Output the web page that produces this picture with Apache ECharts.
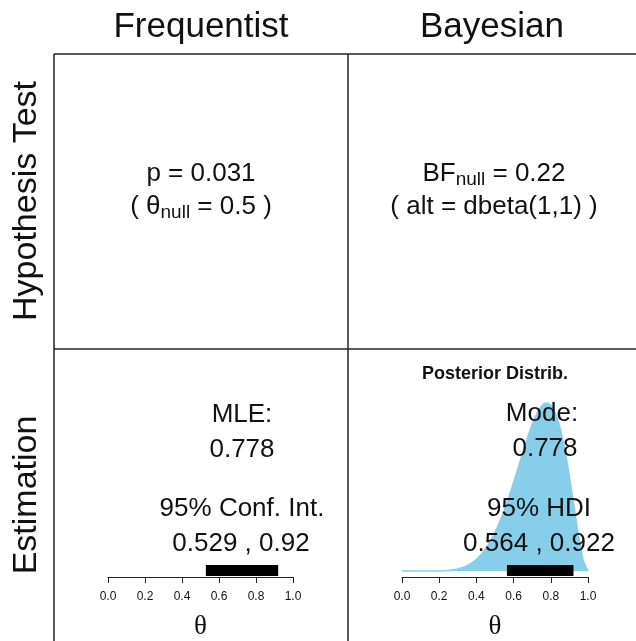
<!DOCTYPE html>
<html>
<head>
<meta charset="utf-8">
<script src="https://cdn.jsdelivr.net/npm/echarts@6/dist/echarts.min.js"></script>
<style>
  html, body { margin: 0; padding: 0; background: #fff; }
  #chart { width: 636px; height: 641px; }
</style>
</head>
<body>
<div id="chart"></div>
<script>
// posterior density (theta, density)
const thetaGrid = [0, 0.05, 0.1, 0.15, 0.2, 0.25, 0.3, 0.35, 0.4, 0.425, 0.45, 0.475, 0.5, 0.525, 0.55, 0.575,
  0.6, 0.625, 0.65, 0.675, 0.7, 0.725, 0.75, 0.775, 0.8, 0.825, 0.85, 0.875, 0.9, 0.925, 0.95, 0.975, 1.0]
const densityVals = [0, 0, 0.0, 0.0004, 0.003, 0.012, 0.039, 0.098, 0.212, 0.298, 0.407, 0.541, 0.703, 0.893, 1.110, 1.351,
  1.612, 1.886, 2.162, 2.428, 2.668, 2.866, 3.003, 3.060, 3.020, 2.868, 2.597, 2.209, 1.722, 1.173, 0.629, 0.189, 0]

const confInt = [0.529, 0.92]   // frequentist 95% CI
const hdi = [0.564, 0.922]      // bayesian 95% HDI
const axisTicks = [0, 0.2, 0.4, 0.6, 0.8, 1.0]

const colHeads = ['Frequentist', 'Bayesian']
const rowHeads = ['Hypothesis Test', 'Estimation']

const chart = echarts.init(document.getElementById('chart'))

const font = '"Liberation Sans", Arial, sans-serif'
const lineCol = '#222'

const makeX = (idx) => ({
  gridIndex: idx,
  type: 'value',
  min: axisTicks[0],
  max: axisTicks[axisTicks.length - 1],
  interval: 0.2,
  name: 'θ',
  nameLocation: 'middle',
  nameGap: 36,
  nameTextStyle: { fontFamily: '"Liberation Serif", "DejaVu Serif", serif', fontSize: 27, color: '#111' },
  axisLine: { onZero: false, lineStyle: { color: lineCol, width: 1 } },
  axisTick: { length: 6, lineStyle: { color: lineCol } },
  axisLabel: { fontFamily: font, fontSize: 12, color: '#111', margin: 14, formatter: v => v.toFixed(1) },
  splitLine: { show: false }
})
const makeY = (idx) => ({ gridIndex: idx, type: 'value', min: -0.107, max: 3.06, show: false })

// text helper
const txt = (x, y, s, size, extra) => Object.assign({
  type: 'text', x: x, y: y, z: 100,
  style: Object.assign({ text: s, fontFamily: font, fontSize: size, fill: '#111', align: 'center', verticalAlign: 'middle' }, extra || {})
})
const seg = (x1, y1, x2, y2) => ({ type: 'line', z: 50, shape: { x1, y1, x2, y2 }, style: { stroke: lineCol, lineWidth: 1.5 } })
const subRich = {
  m: { fontFamily: font, fontSize: 26, color: '#111' },
  s: { fontFamily: font, fontSize: 19, color: '#111', padding: [12, 0, 0, 0] }
}

chart.setOption({
  animation: false,
  grid: [
    { left: 108, width: 185, top: 403, height: 177 },
    { left: 402, width: 186, top: 403, height: 177 }
  ],
  xAxis: [makeX(0), makeX(1)],
  yAxis: [makeY(0), makeY(1)],
  series: [
    {
      type: 'line', xAxisIndex: 1, yAxisIndex: 1, symbol: 'none', smooth: 0.3,
      data: thetaGrid.map((t, i) => [t, densityVals[i]]),
      lineStyle: { color: '#87CEEB', width: 1.5 },
      areaStyle: { color: '#87CEEB', opacity: 1, origin: 'auto' }
    },
    {
      type: 'line', xAxisIndex: 0, yAxisIndex: 0, symbol: 'none', z: 5,
      data: [[confInt[0], 0.01], [confInt[1], 0.01]],
      lineStyle: { color: '#000', width: 11, cap: 'butt' }
    },
    {
      type: 'line', xAxisIndex: 1, yAxisIndex: 1, symbol: 'none', z: 5,
      data: [[hdi[0], 0.01], [hdi[1], 0.01]],
      lineStyle: { color: '#000', width: 11, cap: 'butt' }
    }
  ],
  graphic: [
    seg(54, 54, 54, 641), seg(348, 54, 348, 641),
    seg(54, 54, 636, 54), seg(54, 349, 636, 349),
    txt(201, 27, colHeads[0], 35),
    txt(492, 27, colHeads[1], 35),
    txt(27, 201, rowHeads[0], 34, {}),
    txt(27, 495, rowHeads[1], 34, {}),
    // hypothesis test panels
    txt(201, 174, 'p = 0.031', 26),
    txt(201, 207, '{m|( θ}{s|null}{m| = 0.5 )}', 26, { rich: subRich }),
    txt(494, 174, '{m|BF}{s|null}{m| = 0.22}', 26, { rich: subRich }),
    txt(494, 207, '( alt = dbeta(1,1) )', 26),
    // estimation panels
    txt(242, 415, 'MLE:', 26),
    txt(242, 450, '0.778', 26),
    txt(242, 509, '95% Conf. Int.', 26),
    txt(241, 544, (confInt[0]) + ' , ' + (confInt[1]), 26),
    txt(495, 374, 'Posterior Distrib.', 18, { fontWeight: 'bold' }),
    txt(542, 414, 'Mode:', 26),
    txt(545, 449, '0.778', 26),
    txt(539, 509, '95% HDI', 26),
    txt(539, 544, hdi[0] + ' , ' + hdi[1], 26)
  ]
})

// rotate the row headings
const opt = chart.getOption()
opt.graphic[0].elements.forEach(el => {
  if (el.style && (el.style.text === rowHeads[0] || el.style.text === rowHeads[1])) el.rotation = Math.PI / 2
})
chart.setOption({ graphic: opt.graphic }, { replaceMerge: [] })
</script>
</body>
</html>
